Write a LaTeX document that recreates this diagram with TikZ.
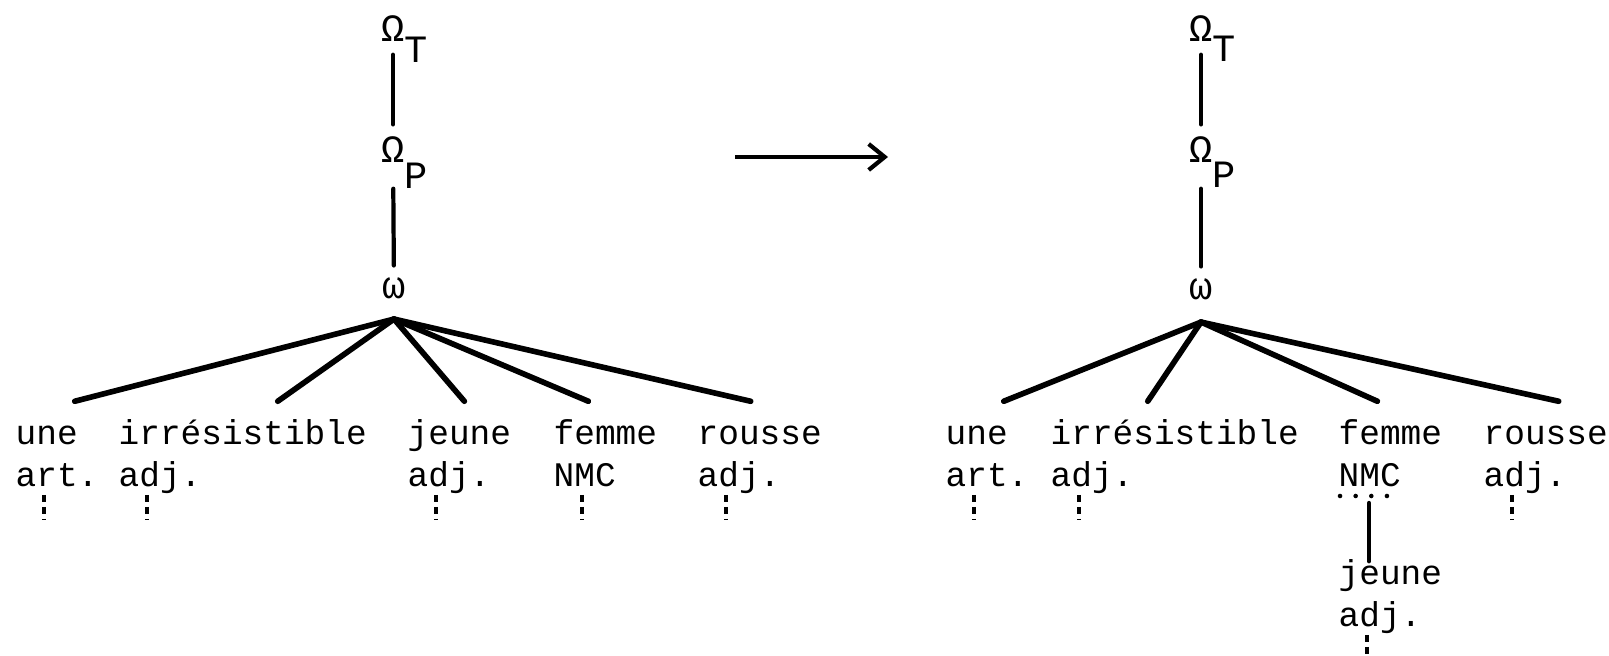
\documentclass[tikz,border=0pt]{standalone}
\usepackage{fontspec}
\setmonofont{Liberation Mono}
\usetikzlibrary{arrows.meta}

\begin{document}
\begin{tikzpicture}[
    every node/.style={font=\ttfamily\fontsize{9.8}{12}\selectfont},
    word/.style={anchor=base west, inner xsep=0pt, inner ysep=2mm, text height=2.3mm, text depth=0.8mm},
    cat/.style={anchor=base west, inner sep=0pt},
    greek/.style={anchor=base, inner sep=1.2mm, font=\ttfamily\fontsize{11}{12}\selectfont},
    stem/.style={line width=1.2pt, line cap=round},
    branch/.style={line width=1.6pt, line cap=round},
    trace/.style={line width=1.1pt, dash pattern=on 2pt off 1.4pt},
  ]
  \useasboundingbox (0, 0) rectangle (16.09, 6.56);

  % left tree
  \node[greek] (lT) at (3.93, 6.14) {Ω\rlap{\smash{\raisebox{-2.1mm}{T}}}};
  \node[greek] (lP) at (3.93, 4.93) {Ω\rlap{\smash{\raisebox{-2.6mm}{P}}}};
  \node[greek] (lw) at (3.94, 3.57) {ω};
  \draw[stem] (lT) -- (lP);
  \draw[stem, shorten <=1.3mm] (lP) -- (lw);

  \node[word] (l-une) at (0.15, 2.11) {une};
  \node[word] (l-irr) at (1.18, 2.11) {irrésistible};
  \node[word] (l-jeune) at (4.07, 2.11) {jeune};
  \node[word] (l-femme) at (5.53, 2.11) {femme};
  \node[word] (l-rousse) at (6.97, 2.11) {rousse};
  \node[cat] (l-une-c) at ([yshift=-0.42cm]l-une.base west) {art.};
  \node[cat] (l-irr-c) at ([yshift=-0.42cm]l-irr.base west) {adj.};
  \node[cat] (l-jeune-c) at ([yshift=-0.42cm]l-jeune.base west) {adj.};
  \node[cat] (l-femme-c) at ([yshift=-0.42cm]l-femme.base west) {NMC};
  \node[cat] (l-rousse-c) at ([yshift=-0.42cm]l-rousse.base west) {adj.};

  \foreach \w/\dx in {une/0.28, irr/0.35, jeune/0.05, femme/-0.17, rousse/-0.09}
    \draw[branch] ([yshift=-0.7mm]lw.south) -- ([xshift=\dx cm]l-\w.north);

  \draw[line width=1.2pt, -{Straight Barb[length=1.6mm, width=2.6mm]}]
    (7.35, 4.99) coordinate (arrL) -- (8.88, 4.99) coordinate (arrR);

  % right tree
  \node[greek] (rT) at (12.01, 6.14) {Ω\rlap{\smash{\raisebox{-2.0mm}{T}}}};
  \node[greek] (rP) at (12.01, 4.93) {Ω\rlap{\smash{\raisebox{-2.5mm}{P}}}};
  \node[greek] (rw) at (12.01, 3.56) {ω};
  \draw[stem] (rT) -- (rP);
  \draw[stem, shorten <=1.3mm] (rP) -- (rw);

  \node[word] (r-une) at (9.45, 2.11) {une};
  \node[word] (r-irr) at (10.50, 2.11) {irrésistible};
  \node[word] (r-femme) at (13.38, 2.11) {femme};
  \node[word] (r-rousse) at (14.83, 2.11) {rousse};
  \node[word] (r-jeune) at (13.38, 0.71) {jeune};
  \node[cat] (r-une-c) at ([yshift=-0.42cm]r-une.base west) {art.};
  \node[cat] (r-irr-c) at ([yshift=-0.42cm]r-irr.base west) {adj.};
  \node[cat] (r-femme-c) at ([yshift=-0.42cm]r-femme.base west) {NMC};
  \node[cat] (r-rousse-c) at ([yshift=-0.42cm]r-rousse.base west) {adj.};
  \node[cat] (r-jeune-c) at ([yshift=-0.42cm]r-jeune.base west) {adj.};

  \foreach \w/\dx in {une/0.27, irr/-0.27, femme/-0.13, rousse/0.13}
    \draw[branch] ([yshift=-0.9mm]rw.south) -- ([xshift=\dx cm]r-\w.north);

  \draw[line width=1.3pt, line cap=round, dash pattern=on 0pt off 4.45pt]
    ([xshift=0.02cm, yshift=-0.09cm]r-femme-c.base west) -- ++(0.47, 0);
  \draw[stem]
    ([xshift=0.31cm, yshift=-0.16cm]r-femme-c.base west) -- ([xshift=0.31cm, yshift=-2mm]r-jeune.north west);

  % traces under the categories
  \foreach \c in {l-une-c, l-irr-c, l-jeune-c, l-femme-c, l-rousse-c, r-une-c, r-irr-c, r-rousse-c, r-jeune-c}
    \draw[trace] ([xshift=0.29cm, yshift=-0.08cm]\c.base west) -- ++(0, -0.25);
\end{tikzpicture}
\end{document}
